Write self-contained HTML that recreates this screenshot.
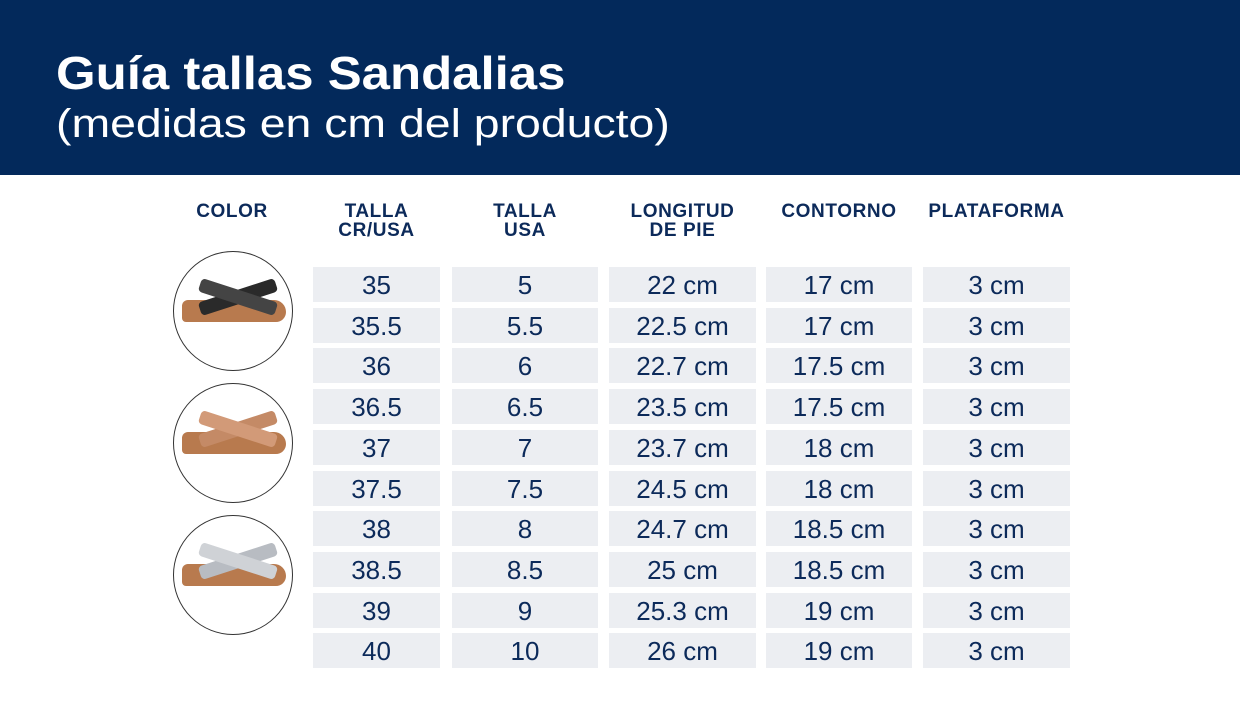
<!DOCTYPE html>
<html><head><meta charset="utf-8"><style>
body{margin:0;width:1240px;height:720px;background:#fff;position:relative;overflow:hidden;font-family:"Liberation Sans",sans-serif;color:#0c2a5a}
.hdr{position:absolute;left:0;top:0;width:1240px;height:175px;background:#03295b}
.t1{position:absolute;left:56px;top:46px;font-size:46px;font-weight:bold;color:#fff;transform:scaleX(1.107);transform-origin:0 0;white-space:nowrap}
.t2{position:absolute;left:56px;top:102px;font-size:40px;color:#fff;transform:scaleX(1.16);transform-origin:0 0;white-space:nowrap}
.h{position:absolute;font-size:19px;font-weight:bold;text-align:center;line-height:19px;color:#0c2a5a;letter-spacing:0.6px}
.c{position:absolute;height:35px;background:#eceef2;text-align:center;font-size:26px;line-height:37px;color:#0c2a5a}
.circ{position:absolute;width:118px;height:118px;border:1.3px solid #333;border-radius:50%;background:#fff;overflow:hidden}
.sole{position:absolute;left:8px;top:48px;width:104px;height:22px;background:#b87a4e;border-radius:6px 12px 10px 4px}
.strap{position:absolute;height:14px;width:80px;left:24px;top:38px;border-radius:4px}
</style></head><body>
<div class="hdr"></div>
<div class="t1">Guía tallas Sandalias</div>
<div class="t2">(medidas en cm del producto)</div>
<div class="h" style="left:172px;top:202px;width:120px">COLOR</div>
<div class="h" style="left:313px;top:202px;width:127px">TALLA<br>CR/USA</div>
<div class="h" style="left:452px;top:202px;width:146px">TALLA<br>USA</div>
<div class="h" style="left:609px;top:202px;width:147px">LONGITUD<br>DE PIE</div>
<div class="h" style="left:766px;top:202px;width:146px">CONTORNO</div>
<div class="h" style="left:923px;top:202px;width:147px">PLATAFORMA</div>
<div class="circ" style="left:173px;top:251px"><div class="sole"></div><div class="strap" style="background:#2a2a2a;transform:rotate(-18deg)"></div><div class="strap" style="background:#444;transform:rotate(18deg)"></div></div>
<div class="circ" style="left:173px;top:383px"><div class="sole"></div><div class="strap" style="background:#c48a66;transform:rotate(-18deg)"></div><div class="strap" style="background:#d29a78;transform:rotate(18deg)"></div></div>
<div class="circ" style="left:173px;top:515px"><div class="sole"></div><div class="strap" style="background:#b8bcc2;transform:rotate(-18deg)"></div><div class="strap" style="background:#cfd2d6;transform:rotate(18deg)"></div></div>
<div id="rows"></div>
<script>
var d=[["35","5","22 cm","17 cm"],["35.5","5.5","22.5 cm","17 cm"],["36","6","22.7 cm","17.5 cm"],["36.5","6.5","23.5 cm","17.5 cm"],["37","7","23.7 cm","18 cm"],["37.5","7.5","24.5 cm","18 cm"],["38","8","24.7 cm","18.5 cm"],["38.5","8.5","25 cm","18.5 cm"],["39","9","25.3 cm","19 cm"],["40","10","26 cm","19 cm"]];
var cols=[[313,127],[452,146],[609,147],[766,146],[923,147]],h="";
d.forEach(function(r,i){var y=267+i*40.7;r=r.concat(["3 cm"]);r.forEach(function(v,j){h+='<div class="c" style="left:'+cols[j][0]+'px;top:'+y+'px;width:'+cols[j][1]+'px">'+v+'</div>';});});
document.getElementById("rows").innerHTML=h;
</script>
</body></html>
